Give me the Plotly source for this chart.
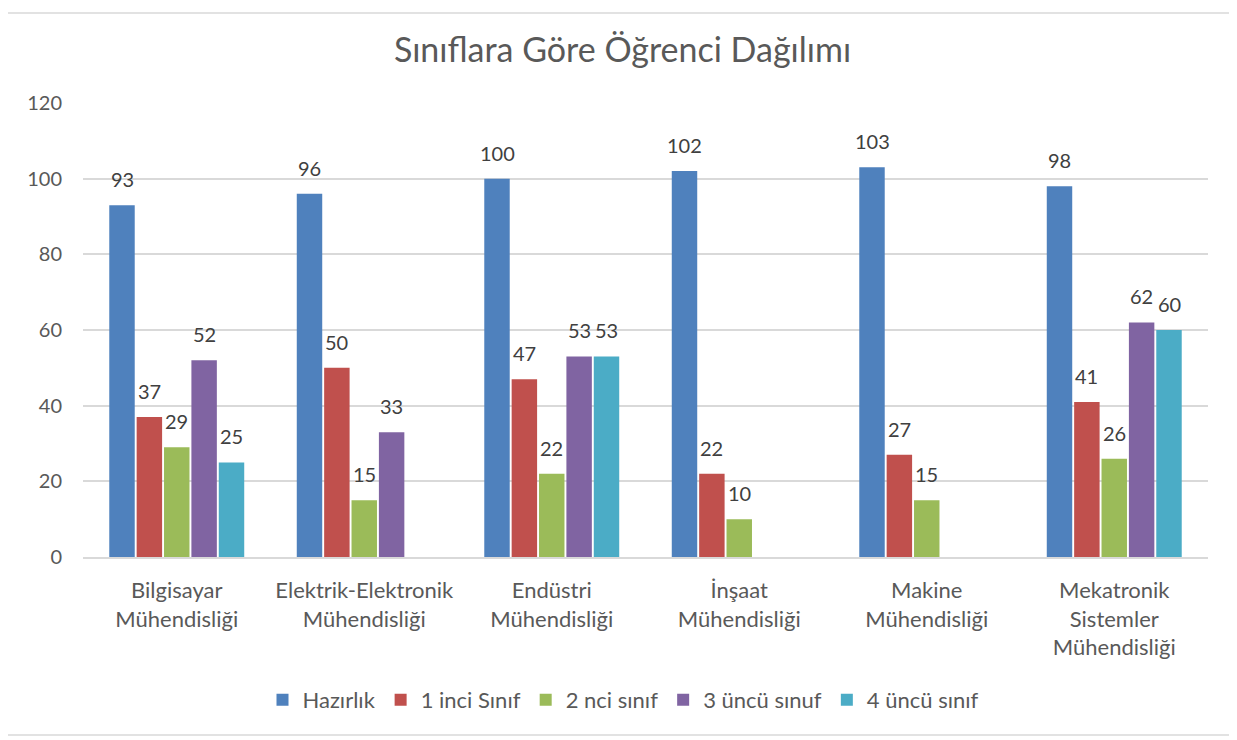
import plotly.graph_objects as go

categories = ["Bilgisayar<br>Mühendisliği", "Elektrik-Elektronik<br>Mühendisliği", "Endüstri<br>Mühendisliği",
              "İnşaat<br>Mühendisliği", "Makine<br>Mühendisliği", "Mekatronik<br>Sistemler<br>Mühendisliği"]
series_names = ["Hazırlık", "1 inci Sınıf", "2 nci sınıf", "3 üncü sınuf", "4 üncü sınıf"]
hazirlik = [93, 96, 100, 102, 103, 98]
sinif1 = [37, 50, 47, 22, 27, 41]
sinif2 = [29, 15, 22, 10, 15, 26]
sinif3 = [52, 33, 53, None, None, 62]
sinif4 = [25, None, 53, None, None, 60]
colors = ["#4F81BD", "#C0504D", "#9BBB59", "#8064A2", "#4BACC6"]
all_series = [hazirlik, sinif1, sinif2, sinif3, sinif4]

FONT = "Lato, 'Noto Sans', sans-serif"
OFF = 8  # page body margin
L, R, T, B = 83 - OFF, 29, 103 - OFF, 183
W, H = 1237 - OFF, 740 - OFF
pw, ph = W - L - R, H - T - B
BARGAP = 0.27

fig = go.Figure()
for name, vals, c in zip(series_names, all_series, colors):
    fig.add_trace(go.Bar(x=categories, y=vals, name=name, marker=dict(color=c, line=dict(width=0))))

# data labels placed over each bar slot
n = len(all_series)
slot = (pw / len(categories)) * (1 - BARGAP) / n
annotations = []
for i, vals in enumerate(all_series):
    for cat, v in zip(categories, vals):
        if v is None:
            continue
        annotations.append(dict(x=cat, y=v, text=str(v), showarrow=False, xref="x", yref="y",
                                xanchor="center", yanchor="bottom", xshift=(i - (n - 1) / 2) * slot, yshift=12,
                                font=dict(size=20, color="#404040", family=FONT)))

fig.update_layout(
    width=W, height=H, margin=dict(l=L, r=R, t=T, b=B),
    paper_bgcolor="white", plot_bgcolor="white",
    barmode="group", bargap=BARGAP, bargroupgap=0.07,
    font=dict(family=FONT, color="#595959", size=20),
    title=dict(text="Sınıflara Göre Öğrenci Dağılımı", x=0.5, xanchor="center", y=1 - (50 - OFF) / H, yanchor="middle",
               font=dict(size=34, color="#595959", family=FONT)),
    showlegend=True,
    legend=dict(orientation="h", x=0.5 - 22 / pw, xanchor="center", y=-(700 - 557) / ph, yanchor="middle",
                font=dict(size=22, color="#595959"), itemwidth=30, traceorder="normal"),
    xaxis=dict(showgrid=False, showline=True, linecolor="#D9D9D9", linewidth=1.5, ticks="",
               tickfont=dict(size=22, color="#595959"), ticklabelstandoff=13),
    yaxis=dict(range=[0, 120], dtick=20, showgrid=True, gridcolor="#D9D9D9", gridwidth=1.5,
               zeroline=False, showline=False, ticks="", tickfont=dict(size=20, color="#595959"),
               ticklabelstandoff=20),
    annotations=annotations,
    shapes=[dict(type="rect", xref="paper", yref="paper",
                 x0=(5 - 83) / pw, x1=(1232 - 83) / pw, y0=-(735 - 557) / ph, y1=1 + (103 - 13) / ph,
                 line=dict(color="#D9D9D9", width=1.5), fillcolor="rgba(0,0,0,0)", layer="below")],
)
fig.write_html("out.html")
